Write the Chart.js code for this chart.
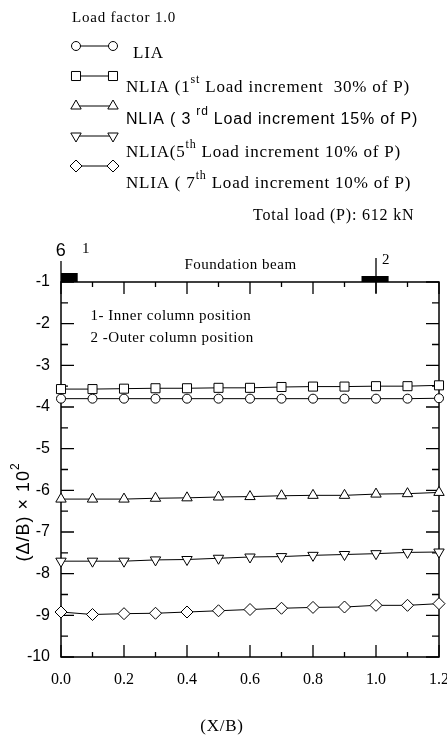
<!DOCTYPE html>
<html>
<head>
<meta charset="utf-8">
<script src="https://cdn.jsdelivr.net/npm/chart.js@4/dist/chart.umd.min.js"></script>
<style>
  html, body { margin: 0; padding: 0; background: #fff; }
  canvas { display: block; }
</style>
</head>
<body>
<canvas id="settlement" width="447" height="736"></canvas>
<script>
// X/B positions along the beam
const xPositions = [0.0, 0.1, 0.2, 0.3, 0.4, 0.5, 0.6, 0.7, 0.8, 0.9, 1.0, 1.1, 1.2];

// (Δ/B) x 10^2
const lia     = [-3.80, -3.80, -3.80, -3.80, -3.80, -3.80, -3.80, -3.80, -3.80, -3.80, -3.80, -3.80, -3.79];
const nlia1st = [-3.57, -3.57, -3.56, -3.55, -3.55, -3.54, -3.54, -3.52, -3.51, -3.51, -3.50, -3.50, -3.48];
const nlia3rd = [-6.21, -6.21, -6.21, -6.19, -6.18, -6.16, -6.15, -6.13, -6.12, -6.12, -6.09, -6.08, -6.05];
const nlia5th = [-7.70, -7.70, -7.70, -7.67, -7.66, -7.63, -7.60, -7.59, -7.56, -7.54, -7.52, -7.49, -7.48];
const nlia7th = [-8.92, -8.98, -8.96, -8.95, -8.92, -8.89, -8.86, -8.83, -8.81, -8.80, -8.76, -8.76, -8.72];

const seriesLabels = ['LIA', 'NLIA 1st', 'NLIA 3rd', 'NLIA 5th', 'NLIA 7th'];
// legend text split as [before, superscript, after]
const legendText = [
  ['LIA', '', ''],
  ['NLIA (1', 'st', ' Load increment  30% of P)'],
  ['NLIA ( 3 ', 'rd', ' Load increment 15% of P)'],
  ['NLIA(5', 'th', ' Load increment 10% of P)'],
  ['NLIA ( 7', 'th', ' Load increment 10% of P)']
];
const legendTitle = 'Load factor 1.0';
const totalLoad = 'Total load (P): 612 kN';
const notes = ['1- Inner column position', '2 -Outer column position'];

const SERIF = '"Liberation Serif", "Times New Roman", serif';
const SANS = '"Liberation Sans", Arial, sans-serif';

function pt(xs, ys) {
  return xs.map((v, i) => ({ x: v, y: ys[i] }));
}

function mkSet(label, ys, style, radius, rotation) {
  return {
    label: label,
    data: pt(xPositions, ys),
    borderColor: '#000',
    borderWidth: 1,
    backgroundColor: '#fff',
    pointStyle: style,
    pointRadius: radius,
    pointRotation: rotation || 0,
    pointBackgroundColor: '#fff',
    pointBorderColor: '#000',
    pointBorderWidth: 1,
    tension: 0,
    clip: false
  };
}

function marker(ctx, ds, x, y) {
  ctx.fillStyle = '#fff';
  ctx.strokeStyle = '#000';
  ctx.lineWidth = 1;
  Chart.helpers.drawPoint(ctx, {
    pointStyle: ds.pointStyle, radius: ds.pointRadius,
    rotation: ds.pointRotation, borderWidth: 1
  }, x, y);
}

function supText(ctx, parts, x, y, font, supFont) {
  ctx.font = font;
  ctx.fillText(parts[0], x, y);
  x += ctx.measureText(parts[0]).width;
  if (parts[1]) {
    ctx.font = supFont;
    ctx.fillText(parts[1], x, y - 9);
    x += ctx.measureText(parts[1]).width;
  }
  ctx.font = font;
  ctx.fillText(parts[2], x, y);
}

const decor = {
  id: 'decor',
  beforeDatasetsDraw(chart) {
    const { ctx, chartArea: a, scales: { x, y } } = chart;
    ctx.save();
    ctx.strokeStyle = '#000';
    ctx.lineWidth = 1.5;
    ctx.strokeRect(a.left, a.top, a.right - a.left, a.bottom - a.top);

    // inward ticks on all four sides
    ctx.lineWidth = 1.3;
    ctx.beginPath();
    xPositions.forEach((v, i) => {
      const px = x.getPixelForValue(v);
      const len = i % 2 ? 5 : 12;
      ctx.moveTo(px, a.bottom); ctx.lineTo(px, a.bottom - len);
      ctx.moveTo(px, a.top); ctx.lineTo(px, a.top + len);
    });
    for (let v = -10; v <= -1; v += 0.5) {
      const py = y.getPixelForValue(v);
      const len = Number.isInteger(v) ? 13 : 7;
      ctx.moveTo(a.left, py); ctx.lineTo(a.left + len, py);
      ctx.moveTo(a.right, py); ctx.lineTo(a.right - len, py);
    }
    ctx.stroke();

    // column positions on top of the foundation beam
    ctx.fillStyle = '#000';
    const c1a = x.getPixelForValue(0), c1b = x.getPixelForValue(0.053);
    ctx.fillRect(c1a, a.top - 9, c1b - c1a, 9);
    const c2a = x.getPixelForValue(0.954), c2b = x.getPixelForValue(1.04);
    ctx.fillRect(c2a, a.top - 6, c2b - c2a, 6);
    ctx.lineWidth = 1.3;
    ctx.beginPath();
    ctx.moveTo(c1a, a.top); ctx.lineTo(c1a, a.top - 21);
    const c2 = x.getPixelForValue(1.0);
    ctx.moveTo(c2, a.top + 11); ctx.lineTo(c2, a.top - 24);
    ctx.stroke();

    ctx.textBaseline = 'alphabetic';
    ctx.letterSpacing = '0.5px';
    ctx.font = '18px ' + SANS;
    ctx.textAlign = 'center';
    ctx.fillText('6', c1a, a.top - 26);
    ctx.font = '15px ' + SERIF;
    ctx.textAlign = 'left';
    ctx.fillText('1', c1a + 21, a.top - 29);
    ctx.fillText('2', c2 + 6, a.top - 18);
    ctx.textAlign = 'center';
    ctx.fillText('Foundation beam', x.getPixelForValue(0.57), a.top - 13);
    ctx.textAlign = 'left';
    ctx.fillText(notes[0], x.getPixelForValue(0.094), a.top + 38);
    ctx.fillText(notes[1], x.getPixelForValue(0.094), a.top + 60);
    ctx.restore();
  },
  afterDraw(chart) {
    const { ctx } = chart;
    const sets = chart.data.datasets;
    ctx.save();
    ctx.fillStyle = '#000';
    ctx.textBaseline = 'alphabetic';
    ctx.letterSpacing = '0.8px';

    // legend block
    ctx.font = '15px ' + SERIF;
    ctx.fillText(legendTitle, 72, 22);
    const markY = [46, 76, 106, 136, 166];
    const textY = [58, 92, 124, 157, 188];
    const textX = [133, 126, 126, 126, 126];
    sets.forEach((ds, i) => {
      ctx.strokeStyle = '#000';
      ctx.lineWidth = 1;
      ctx.beginPath();
      ctx.moveTo(76, markY[i]); ctx.lineTo(113, markY[i]);
      ctx.stroke();
      marker(ctx, ds, 76, markY[i]);
      marker(ctx, ds, 113, markY[i]);
      ctx.fillStyle = '#000';
      const fam = i === 2 ? SANS : SERIF;
      const size = i === 2 ? 16 : 17;
      supText(ctx, legendText[i], textX[i], textY[i], size + 'px ' + fam, '12px ' + fam);
    });
    ctx.font = '16px ' + SERIF;
    ctx.fillText(totalLoad, 253, 220);

    // axis titles
    ctx.textAlign = 'center';
    ctx.font = '17px ' + SERIF;
    ctx.fillText('(X/B)', 222, 731);

    ctx.translate(23, 512);
    ctx.rotate(-Math.PI / 2);
    ctx.letterSpacing = '1px';
    ctx.font = '18px ' + SANS;
    const main = '(\u0394/B) \u00d7 10';
    const w1 = ctx.measureText(main).width;
    ctx.font = '12px ' + SANS;
    const w2 = ctx.measureText('2').width;
    ctx.textAlign = 'left';
    ctx.font = '18px ' + SANS;
    ctx.fillText(main, -(w1 + w2) / 2, 6);
    ctx.font = '12px ' + SANS;
    ctx.fillText('2', -(w1 + w2) / 2 + w1, -4);
    ctx.restore();
  }
};

const config = {
  type: 'line',
  data: {
    datasets: [
      mkSet(seriesLabels[0], lia, 'circle', 4.5),
      mkSet(seriesLabels[1], nlia1st, 'rect', 6.4),
      mkSet(seriesLabels[2], nlia3rd, 'triangle', 6),
      mkSet(seriesLabels[3], nlia5th, 'triangle', 6, 180),
      mkSet(seriesLabels[4], nlia7th, 'rectRot', 6)
    ]
  },
  options: {
    responsive: false,
    animation: false,
    layout: { padding: { top: 282, right: 8, bottom: 0, left: 0 } },
    scales: {
      x: {
        type: 'linear',
        min: 0,
        max: 1.2,
        grid: { display: false, drawTicks: false },
        border: { display: false },
        ticks: {
          stepSize: 0.2,
          padding: 13,
          color: '#000',
          font: { family: SERIF, size: 16 },
          maxRotation: 0,
          callback: (v) => v.toFixed(1)
        },
        afterFit: (s) => { s.height = 79; s.paddingLeft = 0; s.paddingRight = 0; }
      },
      y: {
        min: -10,
        max: -1,
        grid: { display: false, drawTicks: false },
        border: { display: false },
        ticks: {
          stepSize: 1,
          padding: 11,
          color: '#000',
          font: { family: SANS, size: 16 }
        },
        afterFit: (s) => { s.width = 61; s.paddingTop = 0; s.paddingBottom = 0; }
      }
    },
    plugins: {
      legend: { display: false },
      tooltip: { enabled: false }
    }
  },
  plugins: [decor]
};

const chart = new Chart('settlement', config);
</script>
</body>
</html>
